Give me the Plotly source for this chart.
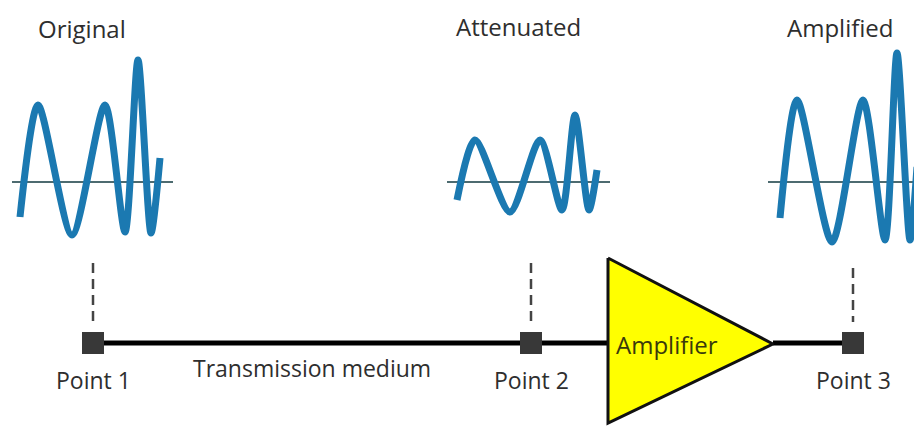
import plotly.graph_objects as go

# Wave key points (pixel-like diagram coordinates, y downwards)
orig_x = [20, 38, 72, 105, 125, 138, 151, 160]
orig_y = [217, 105, 235, 105, 232, 60, 233, 158]
att_x = [457, 475, 510, 540, 562, 575, 589, 597]
att_y = [200, 140, 212, 140, 210, 115, 210, 170]
amp_x = [780, 797, 832, 863, 885, 897, 910, 917]
amp_y = [218, 100, 242, 100, 240, 53, 240, 167]

baseline_y = 182
orig_base = [12, 173]
att_base = [447, 610]
amp_base = [768, 922]

wave_titles = ["Original", "Attenuated", "Amplified"]
wave_title_x = [82, 518, 840]
wave_title_y = [28, 26, 27]

point_labels = ["Point 1", "Point 2", "Point 3"]
point_x = [93, 531, 853]
line_y = 343
dash_top = [263, 263, 268]
dash_bottom = 322

amp_tri_x = [608, 608, 773, 608]
amp_tri_y = [258, 423, 344, 258]

blue = "#1b79b1"
base_col = "#4d6b70"
dark = "#2e2e2e"
font = "Open Sans"

# the page body has an 8px margin; compensate so coordinates match window pixels
OFF = 8

fig = go.Figure()

for bx in [orig_base, att_base, amp_base]:
    fig.add_trace(go.Scatter(x=bx, y=[baseline_y, baseline_y], mode="lines",
                             line=dict(color=base_col, width=2), hoverinfo="skip"))
for wx, wy in [(orig_x, orig_y), (att_x, att_y), (amp_x, amp_y)]:
    fig.add_trace(go.Scatter(x=wx, y=wy, mode="lines",
                             line=dict(color=blue, width=7, shape="spline", smoothing=0.75),
                             hoverinfo="skip"))
for px, top in zip(point_x, dash_top):
    fig.add_trace(go.Scatter(x=[px, px], y=[top, dash_bottom], mode="lines",
                             line=dict(color="#444444", width=2.5, dash="10px,6px"), hoverinfo="skip"))
fig.add_trace(go.Scatter(x=[point_x[0], amp_tri_x[0]], y=[line_y, line_y], mode="lines",
                         line=dict(color="#000000", width=5), hoverinfo="skip"))
fig.add_trace(go.Scatter(x=[amp_tri_x[2], point_x[2]], y=[line_y, line_y], mode="lines",
                         line=dict(color="#000000", width=5), hoverinfo="skip"))
fig.add_trace(go.Scatter(x=amp_tri_x, y=amp_tri_y, mode="lines", fill="toself",
                         fillcolor="#ffff00", line=dict(color="#111111", width=3),
                         hoverinfo="skip"))
fig.add_trace(go.Scatter(x=point_x, y=[line_y] * 3, mode="markers",
                         marker=dict(symbol="square", size=22, color="#383838"),
                         hoverinfo="skip"))

annotations = []
for t, x, y in zip(wave_titles, wave_title_x, wave_title_y):
    annotations.append(dict(x=x, y=y, text=t, showarrow=False,
                            font=dict(family=font, size=24, color=dark)))
for t, x in zip(point_labels, point_x):
    annotations.append(dict(x=x, y=380, text=t, showarrow=False,
                            font=dict(family=font, size=23, color=dark)))
annotations.append(dict(x=312, y=368, text="Transmission medium", showarrow=False,
                        font=dict(family=font, size=23, color=dark)))
annotations.append(dict(x=667, y=344, text="Amplifier", showarrow=False,
                        font=dict(family=font, size=24, color="#3a3a0c")))

fig.update_layout(
    width=922 - OFF, height=436 - OFF,
    margin=dict(l=0, r=0, t=0, b=0),
    paper_bgcolor="white", plot_bgcolor="white",
    showlegend=False,
    xaxis=dict(range=[OFF, 922], visible=False, fixedrange=True),
    yaxis=dict(range=[436, OFF], visible=False, fixedrange=True),
    annotations=annotations,
)

fig.write_html("out.html")
